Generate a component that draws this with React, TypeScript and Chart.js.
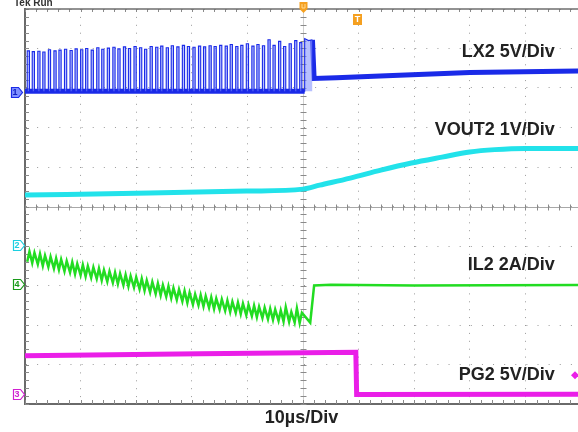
import React, { useEffect, useRef } from 'react';
import { Chart, registerables } from 'chart.js';

Chart.register(...registerables);

// ---- data (x in time divisions, y in vertical divisions) ----
const TIME_BASE = '10µs/Div';
const TRACE_LABELS = ['LX2 5V/Div', 'VOUT2 1V/Div', 'IL2 2A/Div', 'PG2 5V/Div'];
const CHANNEL_TAGS = ['1', '2', '4', '3'];
const CHANNEL_LEVELS = [7.9, 4.03, 3.04, 0.25];

// LX2 switching pulses: rising edge positions and high level of each pulse
const LX2_RISE = [
  0.04, 0.13, 0.23, 0.32, 0.42, 0.52, 0.61, 0.71, 0.81, 0.9,
  1.0, 1.09, 1.19, 1.29, 1.38, 1.48, 1.58, 1.67, 1.77, 1.86,
  1.96, 2.06, 2.15, 2.25, 2.35, 2.44, 2.54, 2.63, 2.73, 2.83,
  2.92, 3.02, 3.12, 3.21, 3.31, 3.4, 3.5, 3.6, 3.69, 3.79,
  3.88, 3.98, 4.08, 4.17, 4.27, 4.37, 4.46, 4.56, 4.65, 4.75,
  4.85, 4.94,
];
const LX2_HIGH = [
  8.94, 8.92, 8.93, 8.91, 8.97, 8.94, 8.96, 8.98, 8.95, 8.99,
  8.97, 9.0, 8.96, 9.02, 8.98, 9.01, 9.03, 8.99, 9.04, 9.0,
  9.05, 9.02, 8.98, 9.05, 9.03, 9.06, 9.02, 9.07, 9.04, 9.08,
  9.05, 9.03, 9.06, 9.04, 9.07, 9.05, 9.08, 9.06, 9.1, 9.05,
  9.08, 9.12, 9.06, 9.1, 9.07, 9.22, 9.08, 9.18, 9.05, 9.12,
  9.2, 9.15,
];
const LX2_LOW = 7.92;
const LX2_PULSE_W = 0.04;
const LX2_BASE_X = [0, 5.03];
const LX2_LAST_X = [5.03, 5.03, 5.1, 5.17];
const LX2_LAST_Y = [7.92, 9.25, 9.2, 9.22];
const LX2_TAIL_X = [5.17, 5.2, 5.6, 6.5, 8.0, 9.95];
const LX2_TAIL_Y = [9.22, 8.24, 8.26, 8.31, 8.39, 8.43];

// VOUT2
const VOUT2_X = [0, 2.25, 4.0, 5.0, 5.3, 5.85, 6.4, 6.95, 7.5, 8.0, 8.45, 9.0, 9.95];
const VOUT2_Y = [5.29, 5.34, 5.39, 5.44, 5.54, 5.72, 5.92, 6.1, 6.25, 6.38, 6.44, 6.47, 6.47];

// IL2 ripple: valley at each pulse rise, peak at each pulse fall
const IL2_VALLEY = [
  3.6, 3.57, 3.54, 3.5, 3.47, 3.43, 3.4, 3.36, 3.33, 3.29,
  3.26, 3.23, 3.2, 3.17, 3.13, 3.1, 3.07, 3.04, 3.01, 2.98,
  2.95, 2.91, 2.87, 2.83, 2.79, 2.75, 2.72, 2.68, 2.64, 2.6,
  2.56, 2.52, 2.5, 2.47, 2.44, 2.41, 2.39, 2.36, 2.33, 2.31,
  2.28, 2.25, 2.23, 2.2, 2.18, 2.15, 2.13, 2.11, 2.09, 2.08,
  2.06, 2.05,
];
const IL2_PEAK = [
  3.86, 3.83, 3.8, 3.76, 3.73, 3.69, 3.66, 3.62, 3.59, 3.55,
  3.52, 3.49, 3.46, 3.43, 3.39, 3.36, 3.33, 3.3, 3.27, 3.24,
  3.21, 3.17, 3.13, 3.09, 3.05, 3.01, 2.98, 2.94, 2.9, 2.86,
  2.82, 2.78, 2.76, 2.73, 2.7, 2.67, 2.65, 2.62, 2.59, 2.57,
  2.54, 2.51, 2.49, 2.46, 2.44, 2.41, 2.39, 2.37, 2.45, 2.33,
  2.42, 2.31,
];
const IL2_TAIL_X = [5.13, 5.2, 5.5, 7.0, 9.95];
const IL2_TAIL_Y = [2.06, 3.0, 3.02, 3.0, 3.01];

// PG2
const PG2_X = [0, 3.15, 5.95, 5.965, 9.95];
const PG2_Y = [1.22, 1.27, 1.31, 0.24, 0.25];

const COLORS = {
  lx2: '#1a2ae8',
  lx2Fill: 'rgba(135,150,255,0.6)',
  vout2: '#22e2ea',
  il2: '#22dc22',
  pg2: '#ea1ee8',
  orange: '#f5a020',
};

const FONT = '"Liberation Sans", Arial, sans-serif';

function buildLx2Pulses() {
  const pts: { x: number; y: number }[] = [];
  LX2_RISE.forEach((x, i) => {
    pts.push({ x, y: LX2_LOW });
    pts.push({ x, y: LX2_HIGH[i] });
    pts.push({ x: x + LX2_PULSE_W, y: LX2_HIGH[i] });
    pts.push({ x: x + LX2_PULSE_W, y: LX2_LOW });
  });
  LX2_LAST_X.forEach((x, i) => pts.push({ x, y: LX2_LAST_Y[i] }));
  return pts;
}

function buildIl2() {
  const pts: { x: number; y: number }[] = [];
  LX2_RISE.forEach((x, i) => {
    pts.push({ x, y: IL2_VALLEY[i] });
    pts.push({ x: x + LX2_PULSE_W, y: IL2_PEAK[i] });
  });
  IL2_TAIL_X.forEach((x, i) => pts.push({ x, y: IL2_TAIL_Y[i] }));
  return pts;
}

const zip = (xs: number[], ys: number[]) => xs.map((x, i) => ({ x, y: ys[i] }));

const scopePlugin = {
  id: 'scopeFrame',
  beforeDatasetsDraw(chart: any) {
    const { ctx, chartArea: a, scales } = chart;
    const x = scales.x;
    const y = scales.y;
    const line = (x1: number, y1: number, x2: number, y2: number) => {
      ctx.beginPath();
      ctx.moveTo(x1, y1);
      ctx.lineTo(x2, y2);
      ctx.stroke();
    };
    ctx.save();
    const cx = Math.round(x.getPixelForValue(5)) + 0.5;
    const cy = Math.round(y.getPixelForValue(5)) + 0.5;
    ctx.lineWidth = 1;
    ctx.strokeStyle = '#a8a8a8';
    line(a.left, cy, a.right, cy);
    ctx.strokeStyle = '#d0d0d0';
    line(cx, a.top, cx, a.bottom);
    ctx.strokeStyle = '#8a8a8a';
    for (let k = 0; k <= 50; k++) {
      const px = Math.round(x.getPixelForValue(k / 5)) + 0.5;
      if (px > a.right) break;
      line(px, cy - 3, px, cy + 3);
      line(px, a.top, px, a.top + 3);
      line(px, a.bottom - 4, px, a.bottom);
    }
    for (let k = 0; k <= 50; k++) {
      const py = Math.round(y.getPixelForValue(k / 5)) + 0.5;
      line(cx - 3, py, cx + 3, py);
      line(a.left, py, a.left + 4, py);
    }
    ctx.strokeStyle = '#6e6e6e';
    ctx.lineWidth = 1.5;
    line(a.left, a.top, a.right, a.top);
    ctx.restore();
  },
  afterDatasetsDraw(chart: any) {
    const { ctx, scales } = chart;
    const x = scales.x;
    const y = scales.y;
    ctx.save();
    // trace labels
    const labelY = [8.91, 6.94, 3.52, 0.73];
    ctx.font = `bold 18px ${FONT}`;
    ctx.fillStyle = '#222';
    ctx.textAlign = 'right';
    ctx.textBaseline = 'middle';
    TRACE_LABELS.forEach((t, i) => {
      ctx.fillText(t, x.getPixelForValue(9.53), y.getPixelForValue(labelY[i]));
    });
    // channel tags
    const tagColors = [COLORS.lx2, '#1ccfe0', '#1a9a1a', '#d020d0'];
    CHANNEL_TAGS.forEach((t, i) => {
      const yc = Math.round(y.getPixelForValue(CHANNEL_LEVELS[i])) + 0.5;
      const xr = i === 0 ? 22.5 : 24.5;
      const w = 11;
      const h = 10;
      ctx.beginPath();
      ctx.moveTo(xr - w, yc - h / 2);
      ctx.lineTo(xr - 4, yc - h / 2);
      ctx.lineTo(xr, yc);
      ctx.lineTo(xr - 4, yc + h / 2);
      ctx.lineTo(xr - w, yc + h / 2);
      ctx.closePath();
      ctx.fillStyle = i === 0 ? '#8090ff' : '#ffffff';
      ctx.fill();
      ctx.strokeStyle = tagColors[i];
      ctx.lineWidth = 1.2;
      ctx.stroke();
      ctx.fillStyle = i === 0 ? '#1020c0' : tagColors[i];
      ctx.font = `bold 9px ${FONT}`;
      ctx.textAlign = 'center';
      ctx.textBaseline = 'middle';
      ctx.fillText(t, xr - w / 2 - 2, yc + 0.5);
    });
    // trigger markers
    const tx = Math.round(x.getPixelForValue(5)) + 0.5;
    ctx.fillStyle = COLORS.orange;
    ctx.beginPath();
    ctx.moveTo(tx - 4, 2);
    ctx.lineTo(tx + 4, 2);
    ctx.lineTo(tx + 4, 9);
    ctx.lineTo(tx, 13);
    ctx.lineTo(tx - 4, 9);
    ctx.closePath();
    ctx.fill();
    ctx.strokeStyle = '#ffd890';
    ctx.lineWidth = 1;
    ctx.beginPath();
    ctx.moveTo(tx - 1.5, 4);
    ctx.lineTo(tx - 1.5, 8);
    ctx.lineTo(tx + 1.5, 8);
    ctx.lineTo(tx + 1.5, 4);
    ctx.stroke();
    const t2 = Math.round(x.getPixelForValue(5.97)) + 0.5;
    ctx.fillStyle = COLORS.orange;
    ctx.fillRect(t2 - 4.5, 14, 9, 11);
    ctx.fillStyle = '#fff';
    ctx.font = `bold 9px ${FONT}`;
    ctx.textAlign = 'center';
    ctx.textBaseline = 'middle';
    ctx.fillText('T', t2, 19.5);
    // right PG2 marker
    const my = y.getPixelForValue(0.73);
    ctx.fillStyle = COLORS.pg2;
    ctx.beginPath();
    ctx.moveTo(571, my);
    ctx.lineTo(575, my - 4);
    ctx.lineTo(579, my);
    ctx.lineTo(575, my + 4);
    ctx.closePath();
    ctx.fill();
    // header text
    ctx.font = `bold 10px ${FONT}`;
    ctx.fillStyle = '#333';
    ctx.textAlign = 'left';
    ctx.textBaseline = 'alphabetic';
    ctx.fillText('Tek Run', 14, 6);
    ctx.restore();
  },
};

export default function App() {
  const ref = useRef<HTMLCanvasElement>(null);
  useEffect(() => {
    if (!ref.current) return;
    const chart = new Chart(ref.current, {
      type: 'line',
      data: {
        datasets: [
          {
            label: 'LX2',
            data: buildLx2Pulses(),
            borderColor: COLORS.lx2,
            backgroundColor: COLORS.lx2Fill,
            borderWidth: 1.1,
            fill: { value: LX2_LOW },
            pointRadius: 0,
            tension: 0,
          },
          {
            label: 'LX2 base',
            data: zip(LX2_BASE_X, [LX2_LOW, LX2_LOW]),
            borderColor: COLORS.lx2,
            borderWidth: 5,
            pointRadius: 0,
            fill: false,
          },
          {
            label: 'LX2 tail',
            data: zip(LX2_TAIL_X, LX2_TAIL_Y),
            borderColor: COLORS.lx2,
            borderWidth: 5,
            pointRadius: 0,
            fill: false,
          },
          {
            label: 'VOUT2',
            data: zip(VOUT2_X, VOUT2_Y),
            borderColor: COLORS.vout2,
            borderWidth: 5,
            pointRadius: 0,
            cubicInterpolationMode: 'monotone',
            fill: false,
          },
          {
            label: 'IL2',
            data: buildIl2(),
            borderColor: COLORS.il2,
            borderWidth: 2.5,
            pointRadius: 0,
            tension: 0,
            fill: false,
          },
          {
            label: 'PG2',
            data: zip(PG2_X, PG2_Y),
            borderColor: COLORS.pg2,
            borderWidth: 5,
            pointRadius: 0,
            tension: 0,
            fill: false,
          },
        ],
      },
      options: {
        animation: false,
        responsive: false,
        devicePixelRatio: 1,
        parsing: true,
        layout: { padding: { left: 25, top: 9, right: 0, bottom: 0 } },
        plugins: {
          legend: { display: false },
          tooltip: { enabled: false },
        },
        scales: {
          x: {
            type: 'linear',
            min: 0,
            max: 9.946,
            ticks: { display: false, stepSize: 1, includeBounds: false },
            grid: { color: '#9a9a9a', lineWidth: 1, drawTicks: false },
            border: { display: true, color: '#6a6a6a', width: 2, dash: [1, 6.9] },
            title: {
              display: true,
              text: TIME_BASE,
              color: '#222',
              font: { family: FONT, size: 18, weight: 'bold', lineHeight: 1.2 },
              padding: { top: 3, bottom: 3.4 },
            },
          },
          y: {
            type: 'linear',
            min: 0,
            max: 10,
            ticks: { display: false, stepSize: 1 },
            grid: { color: '#9a9a9a', lineWidth: 1, drawTicks: false },
            border: { display: true, color: '#6a6a6a', width: 2, dash: [1, 10.12] },
          },
        },
      } as any,
      plugins: [scopePlugin],
    });
    return () => chart.destroy();
  }, []);
  return (
    <div style={{ position: 'absolute', left: 0, top: 0, width: 578, height: 432, background: '#fff' }}>
      <canvas ref={ref} width={578} height={432} style={{ display: 'block' }} />
    </div>
  );
}
